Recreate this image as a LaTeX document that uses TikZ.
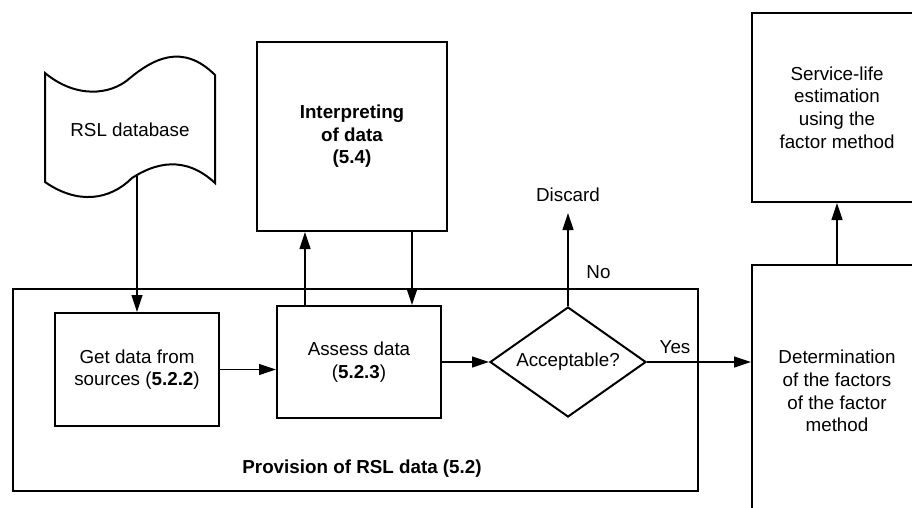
\documentclass[tikz,border=0pt]{standalone}
\usepackage{fontspec}
\setmainfont{Liberation Sans}
\usetikzlibrary{arrows.meta,shapes.geometric,calc}
\begin{document}
\begin{tikzpicture}[x=1pt,y=-1pt,
  txt/.style={font=\fontsize{18.8}{22.6}\selectfont},
  box/.style={txt,draw,line width=2pt,rectangle,inner sep=0pt,align=center},
  conn/.style={line width=1.2pt,-{Triangle[length=17pt,width=11pt]}},
  lbl/.style={txt,inner sep=0pt}]
\useasboundingbox (0,0) rectangle (912,508);
\clip (0,0) rectangle (912,508);
\fill[white] (0,0) rectangle (912,508);

% outer box
\node[box,minimum width=685pt,minimum height=202pt] (prov) at (355.5,390) {};
\node[lbl,font=\fontsize{18.8}{22.6}\selectfont\bfseries] (provlbl) at (362,469) {Provision of RSL data (5.2)};

% flag (document) shape
\draw[line width=2pt] (45,73) .. controls (75,98) and (110,96) .. (130,78)
  .. controls (152,60) and (182,42) .. (215,75) -- (215,183)
  .. controls (185,155) and (155,163) .. (132,178)
  .. controls (110,200) and (78,205) .. (45,182) -- cycle;
\node[lbl] (db) at (130,130) {RSL database};
\coordinate (dbout) at (137,176);

\node[box,minimum width=164pt,minimum height=113pt] (get) at (137,369.5) {Get data from\\sources (\textbf{5.2.2})};
\node[box,minimum width=164pt,minimum height=112pt] (assess) at (359,362) {Assess data\\(\textbf{5.2.3})};
\node[box,minimum width=190pt,minimum height=189pt,font=\fontsize{18.8}{22.6}\selectfont\bfseries] (interp) at (352,136.5) {Interpreting\\of data\\(5.4)};
\node[txt,draw,diamond,line width=2pt,aspect=1.418,minimum width=156pt,minimum height=110pt,inner sep=0pt] (dia) at (568,362) {Acceptable?};
\node[box,minimum width=170pt,minimum height=252pt] (det) at (837,391) {Determination\\of the factors\\of the factor\\method};
\node[box,minimum width=170pt,minimum height=189pt] (svc) at (837,107.5) {Service-life\\estimation\\using the\\factor method};

\node[lbl,anchor=base] (discard) at (568,201) {Discard};
\node[lbl] (no) at (598.5,272) {No};
\node[lbl] (yes) at (675,347) {Yes};

% connectors
\draw[conn] (dbout) -- (get.north);
\draw[conn] (get.east) -- (get.east -| assess.west);
\draw[conn] (assess.east) -- (dia.west);
\draw[conn] ([xshift=29pt]assess.north west) -- ([xshift=29pt]assess.north west |- interp.south);
\draw[conn] ([xshift=136pt]assess.north west |- interp.south) -- ([xshift=136pt]assess.north west);
\draw[conn] (dia.north) -- (dia.north |- {$(discard.base)+(0,12)$});
\draw[conn] (dia.east) -- (dia.east -| det.west);
\draw[conn] (det.north) -- (svc.south);
\end{tikzpicture}
\end{document}
